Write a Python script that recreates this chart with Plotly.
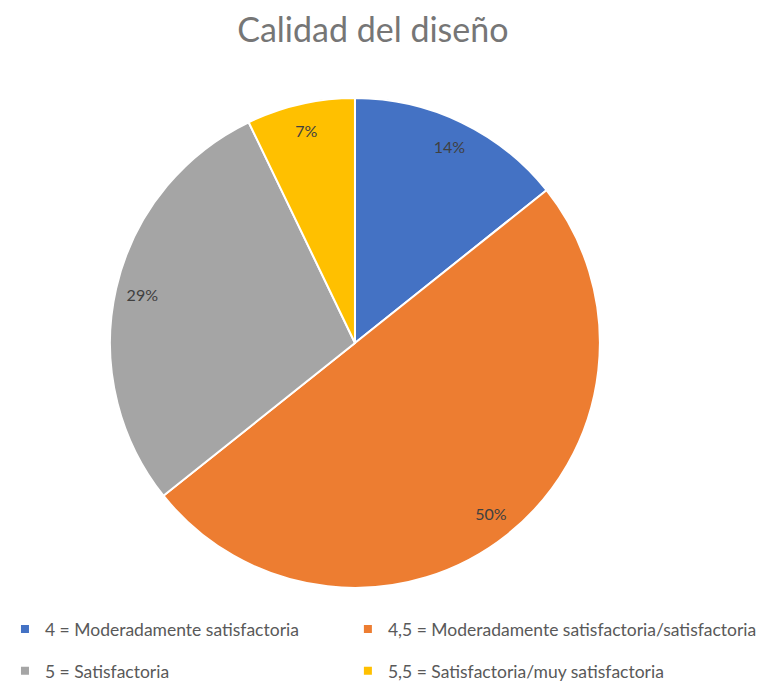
import plotly.graph_objects as go

labels = ["4 = Moderadamente satisfactoria",
          "4,5 = Moderadamente satisfactoria/satisfactoria",
          "5 = Satisfactoria",
          "5,5 = Satisfactoria/muy satisfactoria"]
counts = [2, 7, 4, 1]
colors = ["#4472C4", "#ED7D31", "#A5A5A5", "#FFC000"]
legend_column = ["legend", "legend2", "legend", "legend2"]

W, H = 757, 674  # page body has an 8px margin
dom = dict(x=[0.1347, 0.782], y=[0.1395, 0.8665])
font_family = "Lato, Open Sans, sans-serif"

fig = go.Figure()
fig.add_trace(go.Pie(
    labels=labels, values=counts, sort=False, direction="clockwise", rotation=0,
    marker=dict(colors=colors, line=dict(color="white", width=2)),
    textinfo="none", domain=dom, showlegend=False,
    hovertemplate="%{label}<br>%{percent:.0%}<extra></extra>",
))
fig.add_trace(go.Pie(
    labels=labels, values=counts, sort=False, direction="clockwise", rotation=0,
    hole=0.78, marker=dict(colors=["rgba(0,0,0,0)"] * 4, line=dict(width=0)),
    texttemplate="%{percent:.0%}", textposition="inside", insidetextorientation="horizontal",
    textfont=dict(family=font_family, size=16, color="#404040"),
    domain=dom, showlegend=False, hoverinfo="skip",
))
# legend entries (two columns, as in the reference)
for lab, col, lg in zip(labels, colors, legend_column):
    fig.add_trace(go.Scatter(
        x=[None], y=[None], mode="markers", name=lab, legend=lg, legendgroup=lab,
        marker=dict(symbol="square", size=8, color=col), hoverinfo="skip",
    ))

leg_common = dict(orientation="v", yanchor="top", xanchor="left", tracegroupgap=16,
                  font=dict(family=font_family, size=17.5, color="#595959"),
                  itemsizing="trace", bgcolor="rgba(0,0,0,0)")

fig.update_layout(
    width=W, height=H,
    paper_bgcolor="white", plot_bgcolor="white",
    margin=dict(l=0, r=0, t=0, b=0, autoexpand=False),
    xaxis=dict(visible=False), yaxis=dict(visible=False),
    title=dict(text="Calidad del diseño", x=0.482, xanchor="center", y=0.967, yanchor="middle",
               font=dict(family=font_family, size=34, color="#767676")),
    legend=dict(x=-0.004, y=0.105, **leg_common),
    legend2=dict(x=0.449, y=0.105, **leg_common),
)
fig.write_html("out.html")
